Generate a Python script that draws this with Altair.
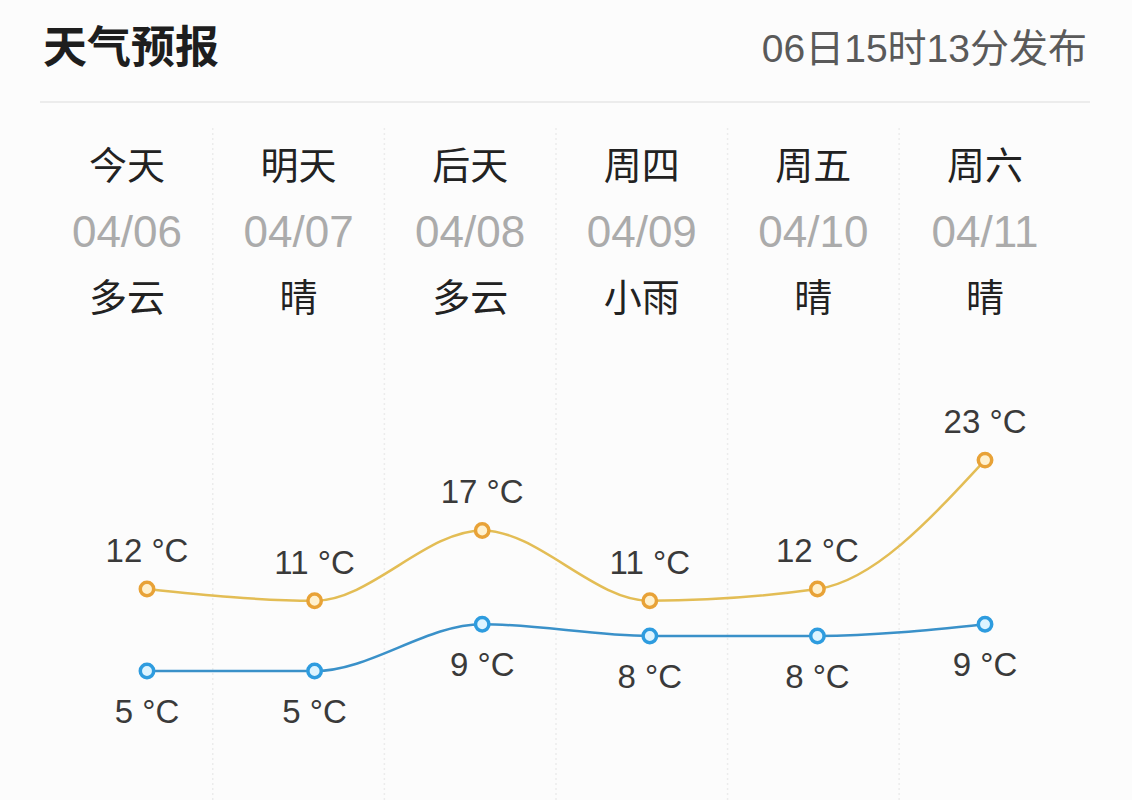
import altair as alt
import pandas as pd

# ---- data ----
title_text = "天气预报"
stamp_text = "06日15时13分发布"
days = ["今天", "明天", "后天", "周四", "周五", "周六"]
dates = ["04/06", "04/07", "04/08", "04/09", "04/10", "04/11"]
weather = ["多云", "晴", "多云", "小雨", "晴", "晴"]
highs = [12, 11, 17, 11, 12, 23]
lows = [5, 5, 9, 8, 8, 9]

W, H = 1132, 800
LATIN = "Liberation Sans, 'Noto Sans CJK SC', sans-serif"
CJK = "'Noto Sans CJK SC', sans-serif"

df = pd.DataFrame({
    "idx": list(range(len(days))),
    "day": days,
    "date": dates,
    "weather": weather,
    "high": highs,
    "low": lows,
})
df["high_label"] = [f"{v} °C" for v in highs]
df["low_label"] = [f"{v} °C" for v in lows]

div_df = pd.DataFrame({"pos": [i + 0.5 for i in range(len(days) - 1)]})
one = pd.DataFrame({"title": [title_text], "stamp": [stamp_text]})

# scales
pt_x = alt.Scale(domain=[-0.877, 5.877])
hd_x = alt.Scale(domain=[-0.740, 5.857])
temp_y = alt.Scale(domain=[-6.0, 62.26])

XP = alt.X("idx:Q", scale=pt_x, axis=None)
XH = alt.X("idx:Q", scale=hd_x, axis=None)

HIGH_LINE = "#E3BD55"
HIGH_PT = "#E8A237"
LOW_LINE = "#3A91C9"
LOW_PT = "#2E9CDF"

# header texts
title = alt.Chart(one).mark_text(
    align="left", baseline="middle", font=CJK, fontSize=44, fontWeight="bold", color="#1e1e1e"
).encode(x=alt.value(43), y=alt.value(50), text="title:N")

stamp = alt.Chart(one).mark_text(
    align="right", baseline="middle", font=LATIN, fontSize=39, color="#5a5a5a"
).encode(x=alt.value(1087), y=alt.value(50), text="stamp:N")

sep = alt.Chart(one).mark_rule(color="#ececec", strokeWidth=2).encode(
    x=alt.value(40), x2=alt.value(1090), y=alt.value(102)
)

dividers = alt.Chart(div_df).mark_rule(
    color="#ececec", strokeWidth=1.5, strokeDash=[2, 3]
).encode(x=alt.X("pos:Q", scale=hd_x, axis=None), y=alt.value(128), y2=alt.value(H))

day_t = alt.Chart(df).mark_text(
    baseline="middle", font=CJK, fontSize=38, color="#222222"
).encode(x=XH, y=alt.value(168), text="day:N")

date_t = alt.Chart(df).mark_text(
    baseline="middle", font=LATIN, fontSize=44, color="#ababab"
).encode(x=XH, y=alt.value(234), text="date:N")

wx_t = alt.Chart(df).mark_text(
    baseline="middle", font=CJK, fontSize=38, color="#222222"
).encode(x=XH, y=alt.value(300), text="weather:N")

# temperature curves
high_line = alt.Chart(df).mark_line(
    interpolate="monotone", color=HIGH_LINE, strokeWidth=2.5
).encode(x=XP, y=alt.Y("high:Q", scale=temp_y, axis=None))

low_line = alt.Chart(df).mark_line(
    interpolate="monotone", color=LOW_LINE, strokeWidth=2.5
).encode(x=XP, y=alt.Y("low:Q", scale=temp_y, axis=None))

high_pt = alt.Chart(df).mark_point(
    shape="circle", filled=True, fill="#FFF1CF", stroke=HIGH_PT, strokeWidth=3.5, size=180, opacity=1
).encode(x=XP, y=alt.Y("high:Q", scale=temp_y, axis=None))

low_pt = alt.Chart(df).mark_point(
    shape="circle", filled=True, fill="#DDF4FF", stroke=LOW_PT, strokeWidth=3.5, size=180, opacity=1
).encode(x=XP, y=alt.Y("low:Q", scale=temp_y, axis=None))

high_lbl = alt.Chart(df).mark_text(
    baseline="alphabetic", dy=-27, font=LATIN, fontSize=33, color="#3a3a3a"
).encode(x=XP, y=alt.Y("high:Q", scale=temp_y, axis=None), text="high_label:N")

low_lbl = alt.Chart(df).mark_text(
    baseline="alphabetic", dy=52, font=LATIN, fontSize=33, color="#3a3a3a"
).encode(x=XP, y=alt.Y("low:Q", scale=temp_y, axis=None), text="low_label:N")

chart = alt.layer(
    dividers, sep, title, stamp, day_t, date_t, wx_t,
    high_line, low_line, high_pt, low_pt, high_lbl, low_lbl,
).resolve_scale(x="independent", y="independent").properties(
    width=W, height=H, padding=0, autosize=alt.AutoSizeParams(type="none"),
    background="#fcfcfc",
).configure_view(stroke=None)

chart.save("out.html", embed_options={"renderer": "svg", "actions": False})
